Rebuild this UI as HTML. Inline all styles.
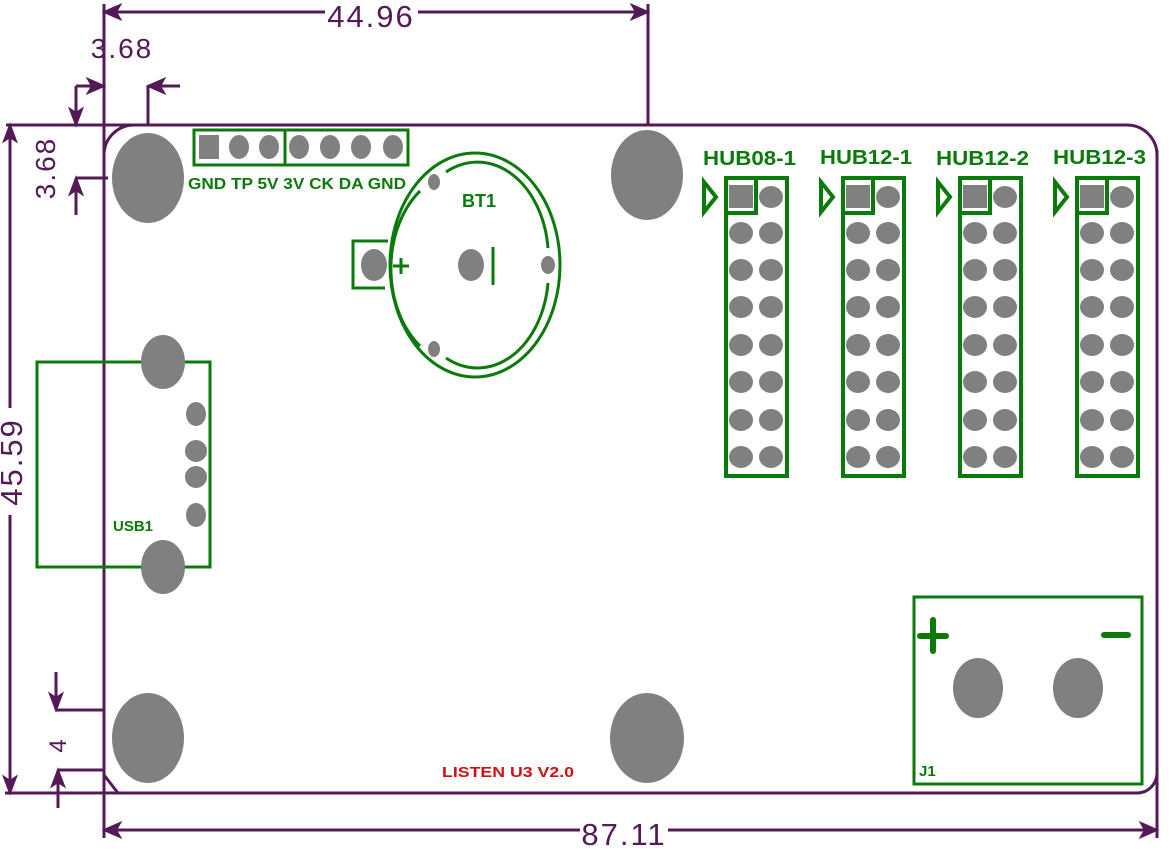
<!DOCTYPE html>
<html><head><meta charset="utf-8"><style>html,body{margin:0;padding:0;background:#fff}svg{display:block}</style></head>
<body>
<svg width="1170" height="850" viewBox="0 0 1170 850" xmlns="http://www.w3.org/2000/svg" font-family="Liberation Sans, sans-serif">
<g stroke="#541a58" stroke-width="3" fill="none">
 <path d="M104 155 A30 30 0 0 1 134 125 L1127 125 A30 30 0 0 1 1157 155"/>
 <path d="M118 793 L1137 793 A20 20 0 0 0 1157 773"/>
 <path d="M104 775 L118 793"/>
 <line x1="6" y1="125" x2="134" y2="125"/>
 <line x1="5" y1="793" x2="118" y2="793"/>
 <line x1="104" y1="4" x2="104" y2="838"/>
 <line x1="648" y1="4" x2="648" y2="125"/>
 <line x1="1157" y1="150" x2="1157" y2="838"/>
 <line x1="10" y1="125" x2="10" y2="408"/>
 <line x1="10" y1="515" x2="10" y2="793"/>
 <line x1="104" y1="12" x2="325" y2="12"/><line x1="418" y1="12" x2="648" y2="12"/>
 <line x1="104" y1="830" x2="580" y2="830"/><line x1="668" y1="830" x2="1157" y2="830"/>
 <line x1="76" y1="86" x2="104" y2="86"/>
 <line x1="148" y1="86" x2="180" y2="86"/><line x1="148" y1="86" x2="148" y2="125"/>
 <line x1="76" y1="86" x2="76" y2="125"/>
 <line x1="76" y1="178" x2="108" y2="178"/><line x1="76" y1="178" x2="76" y2="215"/>
 <line x1="56" y1="672" x2="56" y2="710"/><line x1="56" y1="710" x2="104" y2="710"/>
 <line x1="58" y1="770" x2="104" y2="770"/><line x1="58" y1="770" x2="58" y2="808"/>
</g>
<g fill="#541a58" stroke="#541a58" stroke-width="2">
 <polygon points="104,12 120,5 116,12 120,19"/>
 <polygon points="648,12 632,5 636,12 632,19"/>
 <polygon points="104,830 120,823 116,830 120,837"/>
 <polygon points="1157,830 1141,823 1145,830 1141,837"/>
 <polygon points="10,125 4,141 10,137 16,141"/>
 <polygon points="10,793 4,777 10,781 16,777"/>
 <polygon points="104,86 88,79 92,86 88,93"/>
 <polygon points="148,86 164,79 160,86 164,93"/>
 <polygon points="76,125 70,109 76,113 82,109"/>
 <polygon points="76,178 70,194 76,190 82,194"/>
 <polygon points="56,710 50,694 56,698 62,694"/>
 <polygon points="58,770 52,786 58,782 64,786"/>
</g>
<g fill="#541a58" font-size="31" letter-spacing="2">
 <text x="371" y="27" text-anchor="middle">44.96</text>
 <text x="624" y="845" text-anchor="middle">87.11</text>
 <text x="122" y="58" text-anchor="middle" font-size="28">3.68</text>
 <text transform="translate(55,168) rotate(-90)" text-anchor="middle" font-size="28">3.68</text>
 <text transform="translate(22,462) rotate(-90)" text-anchor="middle">45.59</text>
 <text transform="translate(66,745) rotate(-90)" text-anchor="middle" font-size="24">4</text>
</g>
<g fill="#808080">
 <ellipse cx="148" cy="178" rx="36" ry="45"/>
 <ellipse cx="647" cy="175" rx="36" ry="45"/>
 <ellipse cx="148" cy="738" rx="36" ry="45"/>
 <ellipse cx="647" cy="738" rx="37" ry="45"/>
</g>
<g stroke="#0a7a0a" stroke-width="3" fill="none">
 <rect x="194" y="130" width="214" height="35"/>
 <line x1="285" y1="130" x2="285" y2="165"/>
</g>
<g fill="#808080">
 <rect x="199" y="135" width="20" height="24"/>
 <ellipse cx="239" cy="147" rx="10" ry="12"/><ellipse cx="269" cy="147" rx="10" ry="12"/>
 <ellipse cx="299" cy="147" rx="10" ry="12"/><ellipse cx="330" cy="147" rx="10" ry="12"/>
 <ellipse cx="361" cy="147" rx="10" ry="12"/><ellipse cx="393" cy="147" rx="10" ry="12"/>
</g>
<g fill="#0a7a0a" font-weight="bold" font-size="16">
 <text x="188" y="189" textLength="218" lengthAdjust="spacingAndGlyphs">GND TP  5V 3V CK DA GND</text>
</g>
<g stroke="#0a7a0a" stroke-width="3" fill="none">
 <ellipse cx="475" cy="265" rx="85" ry="112"/>
 <path d="M388 241 L353 241 L353 288 L385 288"/>
 <path d="M446 172 A71 96 0 0 1 548 248"/>
 <path d="M548 283 A71 96 0 0 1 446 358"/>
 <path d="M420 346 A71 96 0 0 1 420 191"/>
 <line x1="493" y1="247" x2="493" y2="285"/>
 <line x1="393" y1="266" x2="409" y2="266"/><line x1="401" y1="258" x2="401" y2="274"/>
</g>
<g fill="#808080">
 <ellipse cx="374" cy="265" rx="13" ry="16"/>
 <ellipse cx="471" cy="265" rx="13" ry="16"/>
 <ellipse cx="548" cy="265" rx="7" ry="9"/>
 <ellipse cx="434" cy="182" rx="6" ry="8"/>
 <ellipse cx="434" cy="349" rx="6" ry="8"/>
</g>
<text x="479" y="207" fill="#0a7a0a" font-weight="bold" font-size="18" text-anchor="middle">BT1</text>
<g stroke="#0a7a0a" stroke-width="3" fill="none"><rect x="37" y="362" width="173" height="205"/></g>
<g fill="#808080">
 <ellipse cx="163" cy="362" rx="22" ry="27"/>
 <ellipse cx="163" cy="567" rx="22" ry="27"/>
 <ellipse cx="196" cy="414" rx="10" ry="12"/>
 <ellipse cx="196" cy="451" rx="11" ry="11"/>
 <ellipse cx="196" cy="477" rx="11" ry="11"/>
 <ellipse cx="196" cy="515" rx="10" ry="12"/>
</g>
<text x="113" y="531" fill="#0a7a0a" font-weight="bold" font-size="15">USB1</text>
<text x="703" y="165" fill="#0a7a0a" font-weight="bold" font-size="20" textLength="93" lengthAdjust="spacingAndGlyphs">HUB08-1</text>
<text x="820" y="164" fill="#0a7a0a" font-weight="bold" font-size="20" textLength="92" lengthAdjust="spacingAndGlyphs">HUB12-1</text>
<text x="936" y="165" fill="#0a7a0a" font-weight="bold" font-size="20" textLength="93" lengthAdjust="spacingAndGlyphs">HUB12-2</text>
<text x="1053" y="164" fill="#0a7a0a" font-weight="bold" font-size="20" textLength="93" lengthAdjust="spacingAndGlyphs">HUB12-3</text>
<g stroke="#0a7a0a" stroke-width="4" fill="none">
 <rect x="726" y="178" width="61" height="298"/><path d="M726 213 H756 V178"/><path d="M704 182 L716 197 L704 212 Z"/>
 <rect x="843" y="178" width="61" height="298"/><path d="M843 213 H873 V178"/><path d="M821 182 L833 197 L821 212 Z"/>
 <rect x="960" y="178" width="61" height="298"/><path d="M960 213 H990 V178"/><path d="M938 182 L950 197 L938 212 Z"/>
 <rect x="1077" y="178" width="61" height="298"/><path d="M1077 213 H1107 V178"/><path d="M1055 182 L1067 197 L1055 212 Z"/>
</g>
<g fill="#808080">
 <rect x="729" y="185" width="24" height="23"/><rect x="846" y="185" width="24" height="23"/>
 <rect x="963" y="185" width="24" height="23"/><rect x="1080" y="185" width="24" height="23"/>
</g>
<g fill="#808080" id="pads"></g>
<g stroke="#0a7a0a" stroke-width="3" fill="none"><rect x="914" y="597" width="228" height="187"/></g>
<g stroke="#0a7a0a" stroke-width="6" stroke-linecap="round">
 <line x1="920" y1="636" x2="946" y2="636"/><line x1="933" y1="620" x2="933" y2="651"/>
 <line x1="1104" y1="635" x2="1128" y2="635"/>
</g>
<g fill="#808080">
 <ellipse cx="978" cy="688" rx="25" ry="30"/>
 <ellipse cx="1078" cy="688" rx="25" ry="30"/>
</g>
<text x="919" y="776" fill="#0a7a0a" font-weight="bold" font-size="15">J1</text>
<text x="442" y="777" fill="#d01010" font-weight="bold" font-size="15" textLength="132" lengthAdjust="spacingAndGlyphs">LISTEN  U3  V2.0</text>
<script>
(function(){var g=document.getElementById('pads');var ns='http://www.w3.org/2000/svg';
var xs=[741,858,975,1092],rows=[197,233,270,307,345,382,420,457];
xs.forEach(function(x){rows.forEach(function(y,i){[0,30].forEach(function(d){if(i==0&&d==0)return;
var e=document.createElementNS(ns,'ellipse');e.setAttribute('cx',x+d);e.setAttribute('cy',y);e.setAttribute('rx',12);e.setAttribute('ry',11);g.appendChild(e);});});});})();
</script>
</svg>
</body></html>
